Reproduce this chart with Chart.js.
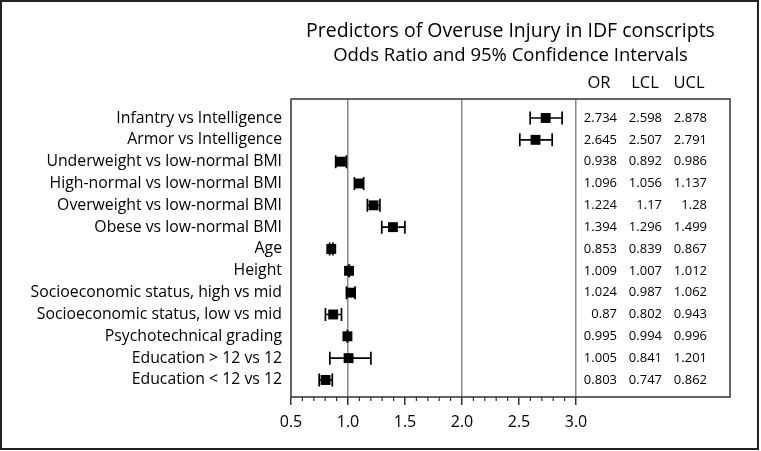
<!DOCTYPE html>
<html>
<head>
<meta charset="utf-8">
<script src="https://cdn.jsdelivr.net/npm/chart.js@4.4.0/dist/chart.umd.min.js"></script>
<style>
  html, body { margin: 0; padding: 0; background: #fff; }
  #wrap { width: 761px; height: 451px; }
</style>
</head>
<body>
<div id="wrap"><canvas id="forest" width="761" height="451"></canvas></div>
<script>
const predictors = [
  'Infantry vs Intelligence',
  'Armor vs Intelligence',
  'Underweight vs low-normal BMI',
  'High-normal vs low-normal BMI',
  'Overweight vs low-normal BMI',
  'Obese vs low-normal BMI',
  'Age',
  'Height',
  'Socioeconomic status, high vs mid',
  'Socioeconomic status, low vs mid',
  'Psychotechnical grading',
  'Education > 12 vs 12',
  'Education < 12 vs 12'
];
const oddsRatio = [2.734, 2.645, 0.938, 1.096, 1.224, 1.394, 0.853, 1.009, 1.024, 0.87, 0.995, 1.005, 0.803];
const lowerCL   = [2.598, 2.507, 0.892, 1.056, 1.17, 1.296, 0.839, 1.007, 0.987, 0.802, 0.994, 0.841, 0.747];
const upperCL   = [2.878, 2.791, 0.986, 1.137, 1.28, 1.499, 0.867, 1.012, 1.062, 0.943, 0.996, 1.201, 0.862];
const xTicks = [0.5, 1.0, 1.5, 2.0, 2.5, 3.0];
const tableHeaders = ['OR', 'LCL', 'UCL'];
const titleText = 'Predictors of Overuse Injury in IDF conscripts';
const subtitleText = 'Odds Ratio and 95% Confidence Intervals';

const FONT = '"Open Sans", sans-serif';
const TABLE_RIGHT = 730;

// error bars with caps, drawn behind the squares
const errorBars = {
  id: 'errorBars',
  beforeDatasetsDraw(chart) {
    const { ctx, scales: { x, y } } = chart;
    ctx.save();
    ctx.strokeStyle = '#000';
    ctx.lineWidth = 1.7;
    predictors.forEach((p, i) => {
      const x1 = x.getPixelForValue(lowerCL[i]);
      const x2 = x.getPixelForValue(upperCL[i]);
      const py = y.getPixelForValue(i);
      ctx.beginPath();
      ctx.moveTo(x1, py); ctx.lineTo(x2, py);
      ctx.moveTo(x1, py - 6.5); ctx.lineTo(x1, py + 6.5);
      ctx.moveTo(x2, py - 6.5); ctx.lineTo(x2, py + 6.5);
      ctx.stroke();
    });
    ctx.restore();
  }
};

// frame, minor ticks, titles and the OR / LCL / UCL table
const decorations = {
  id: 'decorations',
  afterDraw(chart) {
    const { ctx, chartArea: a, scales: { x, y } } = chart;
    ctx.save();
    // outer frame
    ctx.strokeStyle = '#222';
    ctx.lineWidth = 2;
    ctx.strokeRect(1, 1, 757, 448);
    // plot + table box
    ctx.strokeStyle = '#333';
    ctx.lineWidth = 1.5;
    ctx.strokeRect(a.left, a.top, TABLE_RIGHT - a.left, a.bottom - a.top);
    // minor ticks
    ctx.lineWidth = 1.2;
    ctx.beginPath();
    for (let k = 6; k < 30; k++) {
      if (k % 5 === 0) continue;
      const px = x.getPixelForValue(k / 10);
      ctx.moveTo(px, a.bottom); ctx.lineTo(px, a.bottom + 4);
    }
    ctx.stroke();
    // titles
    const cx = (a.left + TABLE_RIGHT) / 2;
    ctx.fillStyle = '#000';
    ctx.textAlign = 'center';
    ctx.textBaseline = 'middle';
    ctx.font = '19.5px ' + FONT;
    ctx.fillText(titleText, cx, 31);
    ctx.font = '18.5px ' + FONT;
    ctx.fillText(subtitleText, cx, 56);
    // table
    const colCenters = [599, 645, 689];
    const colRights = [617, 662, 707];
    ctx.font = '16.5px ' + FONT;
    tableHeaders.forEach((h, j) => ctx.fillText(h, colCenters[j], 83));
    ctx.textAlign = 'right';
    ctx.font = '13px ' + FONT;
    [oddsRatio, lowerCL, upperCL].forEach((col, j) => {
      col.forEach((v, i) => ctx.fillText(String(v), colRights[j], y.getPixelForValue(i)));
    });
    ctx.restore();
  }
};

new Chart('forest', {
  type: 'scatter',
  data: {
    datasets: [{
      data: predictors.map((p, i) => ({ x: oddsRatio[i], y: i })),
      pointStyle: 'rect',
      pointRadius: 7,
      pointHoverRadius: 7,
      backgroundColor: '#000',
      borderColor: '#000',
      borderWidth: 0
    }]
  },
  options: {
    responsive: false,
    animation: false,
    layout: { padding: { left: 0, right: 185, top: 99, bottom: 0 } },
    plugins: { legend: { display: false }, tooltip: { enabled: false } },
    scales: {
      x: {
        type: 'linear',
        min: 0.5,
        max: 3.0,
        afterBuildTicks: s => { s.ticks = xTicks.map(v => ({ value: v })); },
        afterFit: s => { s.height = 54; },
        border: { display: false },
        grid: {
          color: c => (c.tick && Number.isInteger(c.tick.value)) ? '#8a8a8a' : 'rgba(0,0,0,0)',
          lineWidth: 1.5,
          tickColor: '#333',
          tickLength: 8,
          tickWidth: 1.5
        },
        ticks: {
          color: '#000',
          padding: 8,
          autoSkip: false,
          maxRotation: 0,
          font: { family: FONT, size: 16 },
          callback: v => Number(v).toFixed(1)
        }
      },
      y: {
        type: 'linear',
        reverse: true,
        min: -0.87,
        max: 12.78,
        afterBuildTicks: s => { s.ticks = predictors.map((p, i) => ({ value: i })); },
        afterFit: s => { s.width = 291; },
        border: { display: false },
        grid: { display: false, drawTicks: false },
        ticks: {
          color: '#000',
          padding: 9,
          autoSkip: false,
          font: { family: FONT, size: 15.8 },
          callback: v => predictors[v]
        }
      }
    }
  },
  plugins: [errorBars, decorations]
});
</script>
</body>
</html>
